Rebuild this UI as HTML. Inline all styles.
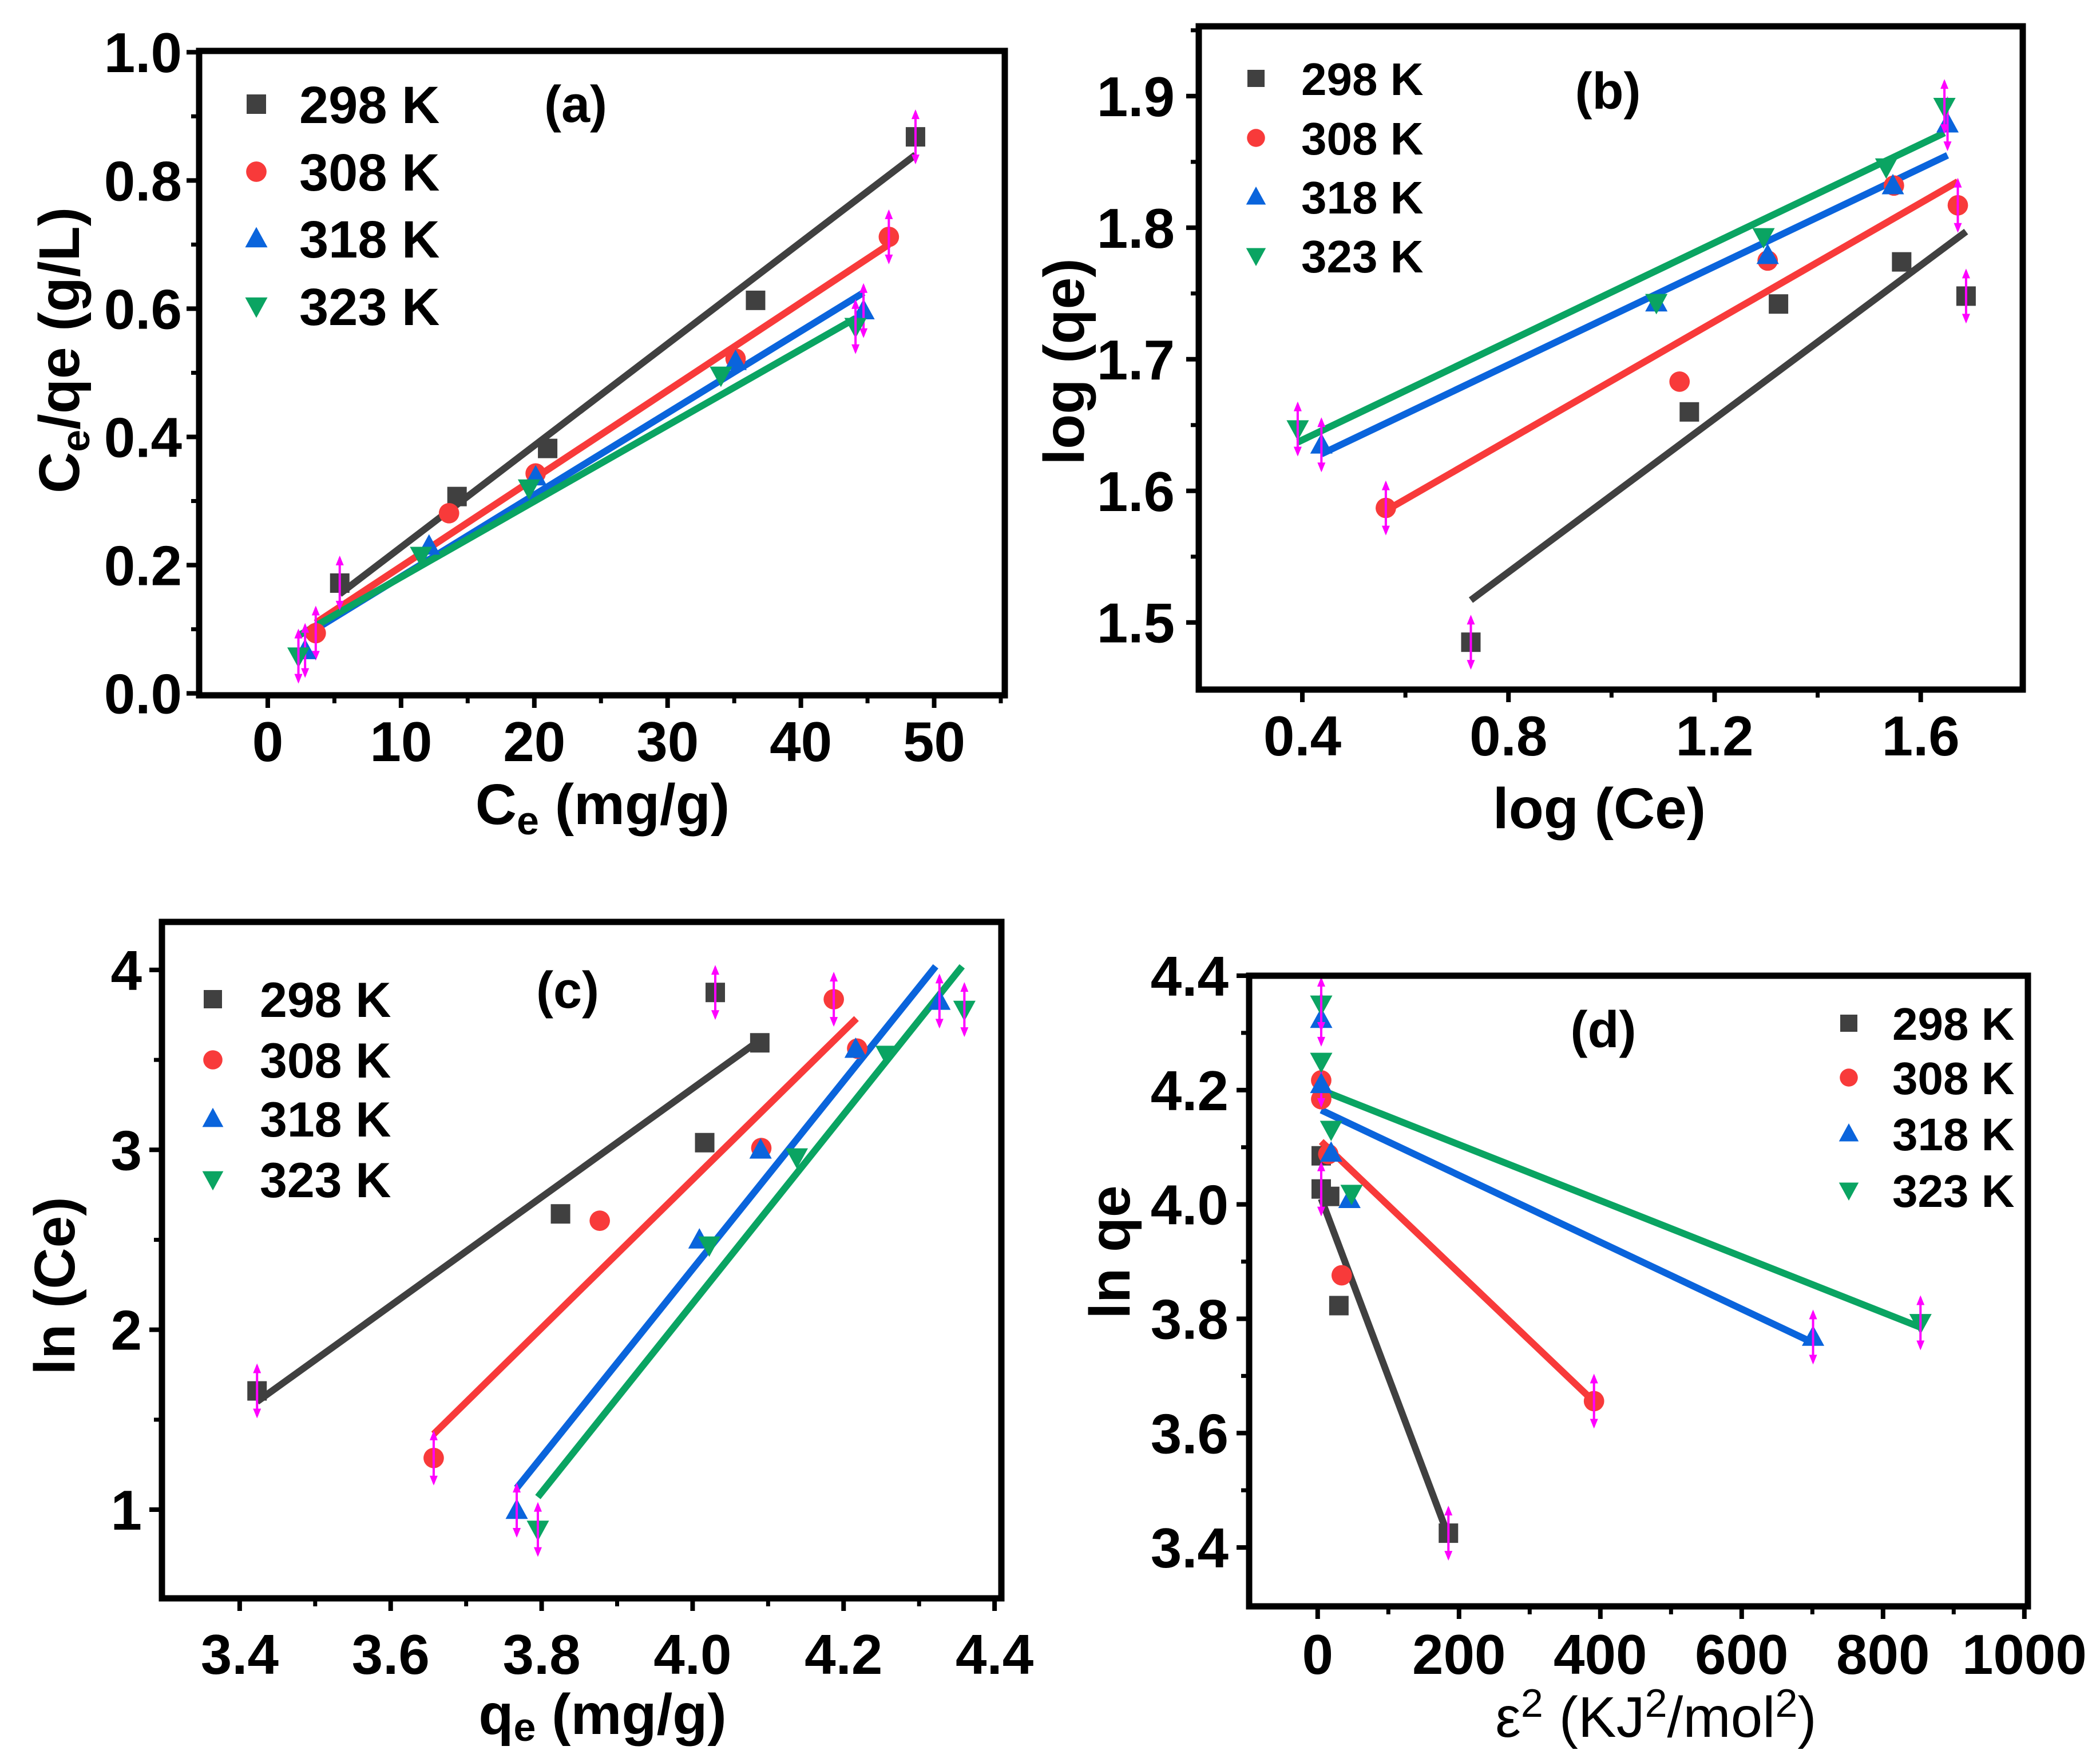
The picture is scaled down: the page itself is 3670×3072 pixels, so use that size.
<!DOCTYPE html>
<html><head><meta charset="utf-8">
<style>
html,body{margin:0;padding:0;background:#fff;overflow:hidden;width:3670px;height:3072px;}
svg{display:block;font-family:"Liberation Sans",Arial,sans-serif;font-weight:bold;}
</style></head>
<body>
<svg id="fig" width="3670" height="3072" viewBox="0 0 3670 3072" xmlns="http://www.w3.org/2000/svg" style="position:absolute;left:0;top:0"></svg>
<script>
// ---------- Panel (a) data: Langmuir ----------
const aX298=[5.4,14.2,21.0,36.6,48.6], aY298=[0.172,0.307,0.382,0.613,0.868];
const aX308=[3.6,13.6,20.1,35.1,46.6], aY308=[0.094,0.281,0.343,0.522,0.712];
const aX318=[2.8,12.1,20.1,35.1,44.7], aY318=[0.067,0.230,0.338,0.518,0.597];
const aX323=[2.3,11.5,19.6,34.0,44.1], aY323=[0.058,0.215,0.320,0.496,0.572];
const aFitX=[[5.4,48.6],[3.6,46.6],[2.8,44.7],[2.3,44.1]];
const aFitY=[[0.155,0.840],[0.110,0.700],[0.090,0.625],[0.090,0.585]];
const aXTicks=[0,10,20,30,40,50], aYTicks=[0.0,0.2,0.4,0.6,0.8,1.0];
// ---------- Panel (b) data: Freundlich ----------
const bX298=[0.727,1.151,1.324,1.563,1.688], bY298=[1.485,1.660,1.742,1.774,1.748];
const bX308=[0.562,1.132,1.303,1.548,1.672], bY308=[1.587,1.683,1.775,1.832,1.817];
const bX318=[0.437,1.087,1.303,1.546,1.652], bY318=[1.635,1.743,1.779,1.832,1.879];
const bX323=[0.391,1.087,1.295,1.533,1.646], bY323=[1.647,1.743,1.793,1.846,1.892];
const bFitX=[[0.727,1.688],[0.562,1.672],[0.437,1.652],[0.391,1.646]];
const bFitY=[[1.517,1.797],[1.585,1.835],[1.628,1.855],[1.637,1.872]];
const bXTicks=[0.4,0.8,1.2,1.6], bYTicks=[1.5,1.6,1.7,1.8,1.9];
// ---------- Panel (c) data: Temkin ----------
const cX298=[3.423,3.825,4.016,4.030,4.089], cY298=[1.66,2.644,3.04,3.875,3.595];
const cX308=[3.657,3.877,4.091,4.187,4.218], cY308=[1.287,2.606,3.01,3.837,3.563];
const cX318=[3.767,4.009,4.090,4.216,4.327], cY318=[0.997,2.50,3.00,3.56,3.827];
const cX323=[3.795,4.022,4.138,4.257,4.360], cY323=[0.89,2.47,2.96,3.53,3.78];
const cFitX=[[3.423,4.089],[3.657,4.217],[3.767,4.322],[3.795,4.357]];
const cFitY=[[1.60,3.61],[1.42,3.73],[1.12,4.02],[1.07,4.02]];
const cXTicks=[3.4,3.6,3.8,4.0,4.2,4.4], cYTicks=[1,2,3,4];
// ---------- Panel (d) data: D-R ----------
const dX298=[5,5,17,30,185], dY298=[4.027,4.085,4.014,3.823,3.425];
const dX308=[5,5,15,34,391], dY308=[4.217,4.184,4.088,3.876,3.656];
const dX318=[5,5,19,45,701], dY318=[4.324,4.21,4.09,4.009,3.768];
const dX323=[5,5,19,48,853], dY323=[4.35,4.25,4.131,4.019,3.793];
const dFitX=[[5,185],[5,391],[5,701],[5,853]];
const dFitY=[[4.01,3.42],[4.11,3.655],[4.165,3.758],[4.20,3.785]];
const dXTicks=[0,200,400,600,800,1000], dYTicks=[3.4,3.6,3.8,4.0,4.2,4.4];

const seriesNames=['298 K','308 K','318 K','323 K'];
const colors=['#404040','#f83a3a','#0a64dc','#0aa462'];
const shapes=['square','circle','up','down'];

const NS='http://www.w3.org/2000/svg';
const svg=document.getElementById('fig');
function mk(tag,attrs,parent){const e=document.createElementNS(NS,tag);for(const k in attrs)e.setAttribute(k,attrs[k]);(parent||svg).appendChild(e);return e;}

function marker(g,shape,cx,cy,col,s){
  let e;
  if(shape==='square') e=mk('rect',{x:cx-s,y:cy-s,width:2*s,height:2*s,fill:col},g);
  else if(shape==='circle') e=mk('circle',{cx:cx,cy:cy,r:s*1.05,fill:col},g);
  else if(shape==='up') e=mk('polygon',{points:`${cx},${cy-s*1.2} ${cx-s*1.15},${cy+s*0.9} ${cx+s*1.15},${cy+s*0.9}`,fill:col},g);
  else e=mk('polygon',{points:`${cx},${cy+s*1.2} ${cx-s*1.15},${cy-s*0.9} ${cx+s*1.15},${cy-s*0.9}`,fill:col},g);
  return e;
}
function errArrow(g,cx,cy){
  const a=mk('g',{},g);
  
  
  mk('line',{x1:cx,y1:cy-44,x2:cx,y2:cy+44,stroke:'#ff00ff','stroke-width':4},a);
  mk('polygon',{points:`${cx},${cy-48} ${cx-7},${cy-31} ${cx+7},${cy-31}`,fill:'#ff00ff'},a);
  mk('polygon',{points:`${cx},${cy+48} ${cx-7},${cy+31} ${cx+7},${cy+31}`,fill:'#ff00ff'},a);
}

function panel(p){
  const g=mk('g',{});
  
  
  const sx=v=>p.box[0]+(v-p.xr[0])/(p.xr[1]-p.xr[0])*(p.box[2]-p.box[0]);
  const sy=v=>p.box[3]-(v-p.yr[0])/(p.yr[1]-p.yr[0])*(p.box[3]-p.box[1]);
  for(let i=0;i<4;i++){
    const l=mk('line',{x1:sx(p.fx[i][0]),y1:sy(p.fy[i][0]),x2:sx(p.fx[i][1]),y2:sy(p.fy[i][1]),stroke:colors[i],'stroke-width':12},g);
    
    
  }
  for(let i=0;i<4;i++){
    const sg=mk('g',{},g);
    
    
    for(let j=0;j<p.xs[i].length;j++){
      const m=marker(sg,shapes[i],sx(p.xs[i][j]),sy(p.ys[i][j]),colors[i],17);
      
      
    }
    for(const j of p.err[i]) errArrow(sg,sx(p.xs[i][j]),sy(p.ys[i][j]));
  }
  const fr=mk('rect',{x:p.box[0],y:p.box[1],width:p.box[2]-p.box[0],height:p.box[3]-p.box[1],fill:'none',stroke:'#000','stroke-width':11},g);
  
  
  const xg=mk('g',{},g);
  
  
  p.xt.forEach(v=>{
    mk('line',{x1:sx(v),y1:p.box[3],x2:sx(v),y2:p.box[3]+22,stroke:'#000','stroke-width':8},xg);
    const t=mk('text',{x:sx(v),y:p.xlabY,'text-anchor':'middle','font-size':98},xg);
    t.textContent=p.xfmt(v);
    
    
  });
  for(let k=0;k<p.xt.length;k++){const v=p.xt[k]+p.xminor; if(sx(v)<p.box[2]-5) mk('line',{x1:sx(v),y1:p.box[3],x2:sx(v),y2:p.box[3]+14,stroke:'#000','stroke-width':7},xg);}
  {const v=p.xt[0]-p.xminor; if(sx(v)>p.box[0]+5) mk('line',{x1:sx(v),y1:p.box[3],x2:sx(v),y2:p.box[3]+14,stroke:'#000','stroke-width':7},xg);}
  const yg=mk('g',{},g);
  
  
  p.yt.forEach(v=>{
    mk('line',{x1:p.box[0]-22,y1:sy(v),x2:p.box[0],y2:sy(v),stroke:'#000','stroke-width':8},yg);
    const t=mk('text',{x:p.ylabX,y:sy(v)+35,'text-anchor':'end','font-size':98},yg);
    t.textContent=p.yfmt(v);
    
    
  });
  for(let k=0;k<p.yt.length;k++){const v=p.yt[k]+p.yminor; if(sy(v)>p.box[1]+5) mk('line',{x1:p.box[0]-14,y1:sy(v),x2:p.box[0],y2:sy(v),stroke:'#000','stroke-width':7},yg);}
  {const v=p.yt[0]-p.yminor; if(sy(v)<p.box[3]-5) mk('line',{x1:p.box[0]-14,y1:sy(v),x2:p.box[0],y2:sy(v),stroke:'#000','stroke-width':7},yg);}
  const lg=mk('g',{},g);
  
  
  for(let i=0;i<4;i++){
    const e=mk('g',{},lg);
    
    
    marker(e,shapes[i],p.leg.mx,p.leg.ys[i],colors[i],p.leg.ms);
    const t=mk('text',{x:p.leg.tx,y:p.leg.ys[i]+p.leg.fs*0.36,'font-size':p.leg.fs},e);
    t.textContent=seriesNames[i];
  }
  const pl=mk('text',{x:p.lab[0],y:p.lab[1]+32,'text-anchor':'middle','font-size':90},g);
  pl.textContent='('+p.id+')';
  
  
  return g;
}
const f1=v=>v.toFixed(1), f0=v=>String(v);
panel({id:'a',box:[348,89,1756,1215],xr:[-5.15,55.3],yr:[-0.003,1.002],xs:[aX298,aX308,aX318,aX323],ys:[aY298,aY308,aY318,aY323],fx:aFitX,fy:aFitY,
  xt:aXTicks,yt:aYTicks,xminor:5,yminor:0.1,xfmt:f0,yfmt:f1,xlabY:1330,ylabX:318,
  err:[[0,4],[0,4],[0,4],[0,4]],leg:{mx:448,tx:523,ys:[182,300,417,535],fs:92,ms:17},lab:[1006,181]});
panel({id:'b',box:[2095,46,3535,1205],xr:[0.199,1.798],yr:[1.449,1.953],xs:[bX298,bX308,bX318,bX323],ys:[bY298,bY308,bY318,bY323],fx:bFitX,fy:bFitY,
  xt:bXTicks,yt:bYTicks,xminor:0.2,yminor:0.05,xfmt:f1,yfmt:f1,xlabY:1320,ylabX:2053,
  err:[[0,4],[0,4],[0,4],[0,4]],leg:{mx:2195,tx:2274,ys:[137,241,344,447],fs:80,ms:15},lab:[2810,158]});
panel({id:'c',box:[283,1611,1750,2793],xr:[3.297,4.409],yr:[0.507,4.267],xs:[cX298,cX308,cX318,cX323],ys:[cY298,cY308,cY318,cY323],fx:cFitX,fy:cFitY,
  xt:cXTicks,yt:cYTicks,xminor:0.1,yminor:0.5,xfmt:f1,yfmt:f0,xlabY:2925,ylabX:248,
  err:[[0,3],[0,3],[0,4],[0,4]],leg:{mx:372,tx:454,ys:[1746,1852,1955,2061],fs:86,ms:16},lab:[992,1729]});
panel({id:'d',box:[2183,1705,3544,2807],xr:[-97,1005],yr:[3.297,4.4],xs:[dX298,dX308,dX318,dX323],ys:[dY298,dY308,dY318,dY323],fx:dFitX,fy:dFitY,
  xt:dXTicks,yt:dYTicks,xminor:100,yminor:0.1,xfmt:f0,yfmt:f1,xlabY:2925,ylabX:2147,
  err:[[0,4],[0,4],[0,4],[0,4]],leg:{mx:3231,tx:3307,ys:[1788,1883,1981,2080],fs:80,ms:15},lab:[2802,1798]});
</script>
<svg style="position:absolute;left:0;top:0" width="3670" height="3072" xmlns="http://www.w3.org/2000/svg" font-family="Liberation Sans, Arial, sans-serif" font-weight="bold">
  <text transform="translate(138,612) rotate(-90)" text-anchor="middle" font-size="100">C<tspan font-size="70" dy="18">e</tspan><tspan dy="-18">/qe (g/L)</tspan></text>
  <text x="1053" y="1440" text-anchor="middle" font-size="100">C<tspan font-size="70" dy="18">e</tspan><tspan dy="-18"> (mg/g)</tspan></text>
  <text transform="translate(1894,632) rotate(-90)" text-anchor="middle" font-size="100">log (qe)</text>
  <text x="2795" y="1447" text-anchor="middle" font-size="100">log (Ce)</text>
  <text transform="translate(130,2247) rotate(-90)" text-anchor="middle" font-size="100">ln (Ce)</text>
  <text x="1053" y="3030" text-anchor="middle" font-size="100">q<tspan font-size="70" dy="12">e</tspan><tspan dy="-12"> (mg/g)</tspan></text>
  <text transform="translate(1974,2188) rotate(-90)" text-anchor="middle" font-size="100">ln qe</text>
  <text x="2894" y="3035" text-anchor="middle" font-size="100" font-weight="normal">ε<tspan font-size="70" dy="-35">2</tspan><tspan dy="35"> (KJ</tspan><tspan font-size="70" dy="-35">2</tspan><tspan dy="35">/mol</tspan><tspan font-size="70" dy="-35">2</tspan><tspan dy="35">)</tspan></text>
</svg>
</body></html>
